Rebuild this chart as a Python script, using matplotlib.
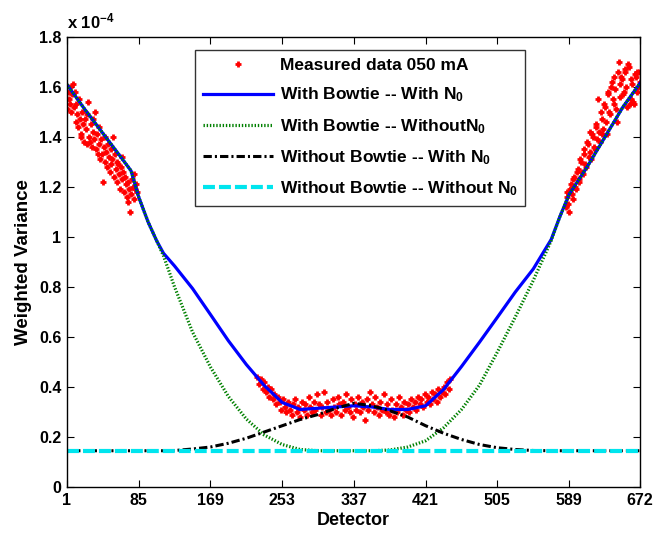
import matplotlib
matplotlib.use("Agg")
import matplotlib.pyplot as plt
import numpy as np

plt.rcParams['font.family'] = ['Liberation Sans', 'DejaVu Sans']
plt.rcParams['font.weight'] = 'bold'
plt.rcParams['mathtext.default'] = 'regular'
plt.rcParams['lines.scale_dashes'] = False

# detector grid for the model curves
det = [1, 22, 43, 64, 76, 85, 96, 106, 114, 127, 148, 169, 190, 211, 232, 253, 274, 295, 316,
       337, 358, 379, 400, 421, 442, 463, 484, 505, 526, 547, 568, 578, 589, 610, 631, 652, 672]
# variance values in units of 1e-4
bow_n0 = [1.61, 1.51, 1.415, 1.32, 1.265, 1.16, 1.06, 0.985, 0.935, 0.884, 0.794, 0.69, 0.585,
          0.49, 0.406, 0.338, 0.31, 0.315, 0.32, 0.325, 0.32, 0.31, 0.31, 0.325, 0.39, 0.482,
          0.579, 0.679, 0.78, 0.872, 0.99, 1.08, 1.17, 1.28, 1.40, 1.52, 1.615]
bow_no_n0 = [1.61, 1.51, 1.415, 1.32, 1.265, 1.16, 1.06, 0.985, 0.925, 0.80, 0.62, 0.48, 0.362,
             0.272, 0.208, 0.17, 0.15, 0.145, 0.145, 0.145, 0.145, 0.148, 0.16, 0.185, 0.237,
             0.31, 0.407, 0.54, 0.68, 0.826, 0.985, 1.08, 1.17, 1.28, 1.40, 1.52, 1.615]
nobow_n0 = [0.145, 0.145, 0.145, 0.145, 0.145, 0.145, 0.145, 0.145, 0.145, 0.146, 0.152, 0.16,
            0.175, 0.195, 0.22, 0.245, 0.27, 0.29, 0.315, 0.335, 0.325, 0.305, 0.28, 0.245,
            0.215, 0.19, 0.17, 0.157, 0.15, 0.146, 0.145, 0.145, 0.145, 0.145, 0.145, 0.145,
            0.145]
nobow_no_n0 = [0.145] * len(det)

# measured data, left edge
meas_l_x = list(range(1, 84))
meas_l_y = [1.51, 1.58, 1.55, 1.60, 1.53, 1.50, 1.57, 1.61, 1.52, 1.58, 1.46, 1.53, 1.49, 1.44,
            1.55, 1.47, 1.41, 1.40, 1.50, 1.45, 1.38, 1.47, 1.43, 1.37, 1.49, 1.54, 1.40, 1.38,
            1.45, 1.36, 1.42, 1.47, 1.39, 1.50, 1.35, 1.41, 1.33, 1.44, 1.37, 1.31, 1.39, 1.33,
            1.22, 1.36, 1.40, 1.30, 1.34, 1.28, 1.37, 1.32, 1.26, 1.35, 1.29, 1.31, 1.40, 1.24,
            1.33, 1.27, 1.30, 1.22, 1.29, 1.25, 1.19, 1.28, 1.32, 1.23, 1.26, 1.18, 1.24, 1.21,
            1.16, 1.14, 1.22, 1.19, 1.10, 1.17, 1.23, 1.20, 1.15, 1.25, 1.19, 1.21, 1.18]
# measured data, centre
meas_c_x = list(range(224, 452, 2))
meas_c_y = [0.44, 0.41, 0.43, 0.39, 0.42, 0.38, 0.40, 0.36, 0.39, 0.35, 0.37, 0.33, 0.36, 0.34,
            0.31, 0.35, 0.32, 0.30, 0.34, 0.31, 0.29, 0.33, 0.35, 0.30, 0.32, 0.28, 0.34, 0.31,
            0.33, 0.29, 0.36, 0.32, 0.30, 0.34, 0.31, 0.37, 0.33, 0.29, 0.32, 0.38, 0.30, 0.34,
            0.31, 0.29, 0.35, 0.32, 0.30, 0.36, 0.33, 0.29, 0.34, 0.31, 0.37, 0.32, 0.30, 0.35,
            0.28, 0.33, 0.31, 0.36, 0.30, 0.34, 0.32, 0.27, 0.35, 0.31, 0.38, 0.33, 0.30, 0.36,
            0.32, 0.29, 0.34, 0.31, 0.37, 0.30, 0.33, 0.29, 0.35, 0.31, 0.28, 0.33, 0.30, 0.36,
            0.32, 0.29, 0.34, 0.31, 0.33, 0.30, 0.35, 0.32, 0.34, 0.31, 0.36, 0.33, 0.35, 0.32,
            0.37, 0.34, 0.36, 0.33, 0.38, 0.35, 0.37, 0.34, 0.39, 0.36, 0.38, 0.40, 0.37, 0.42,
            0.39, 0.43]
# measured data, right edge
meas_r_x = list(range(585, 673))
meas_r_y = [1.12, 1.16, 1.18, 1.13, 1.10, 1.19, 1.21, 1.17, 1.15, 1.23, 1.24, 1.20, 1.19, 1.26,
            1.27, 1.23, 1.22, 1.31, 1.30, 1.26, 1.25, 1.35, 1.33, 1.29, 1.28, 1.38, 1.37, 1.32,
            1.42, 1.34, 1.31, 1.41, 1.40, 1.36, 1.35, 1.44, 1.45, 1.39, 1.55, 1.42, 1.38, 1.50,
            1.47, 1.41, 1.43, 1.53, 1.52, 1.46, 1.41, 1.58, 1.57, 1.50, 1.49, 1.60, 1.62, 1.55,
            1.53, 1.64, 1.59, 1.51, 1.46, 1.66, 1.70, 1.61, 1.56, 1.64, 1.63, 1.57, 1.58, 1.67,
            1.66, 1.60, 1.52, 1.69, 1.68, 1.53, 1.55, 1.63, 1.61, 1.54, 1.53, 1.65, 1.64, 1.66,
            1.58, 1.60, 1.66, 1.62]

xticks = [1, 85, 169, 253, 337, 421, 505, 589, 672]
yticks = [0, 0.2, 0.4, 0.6, 0.8, 1.0, 1.2, 1.4, 1.6, 1.8]
ytick_labels = ['0', '0.2', '0.4', '0.6', '0.8', '1', '1.2', '1.4', '1.6', '1.8']

meas_x = meas_l_x + meas_c_x + meas_r_x
meas_y = meas_l_y + meas_c_y + meas_r_y

fig = plt.figure(figsize=(6.54, 5.33), dpi=100)
ax = fig.add_axes([0.1024, 0.0863, 0.8762, 0.8443])

ax.plot(meas_x, meas_y, linestyle='none', marker='+', color='red', ms=4, mew=2,
        label='Measured data 050 mA')
ax.plot(det, bow_n0, color='#0000ff', lw=2.3, label='With Bowtie -- With N$_0$')
ax.plot(det, bow_no_n0, color='#008000', lw=2.3, dashes=(1.0, 1.3), dash_capstyle='butt',
        label='With Bowtie -- WithoutN$_0$')
ax.plot(det, nobow_n0, color='black', lw=2.2, dashes=(6, 2.2, 1.5, 2.2),
        label='Without Bowtie -- With N$_0$')
ax.plot(det, nobow_no_n0, color='#00e5ee', lw=3.0, dashes=(8.6, 2.9),
        label='Without Bowtie -- Without N$_0$')

ax.set_xlim(1, 672)
ax.set_ylim(0, 1.8)
ax.set_xticks(xticks)
ax.set_xticklabels([str(t) for t in xticks])
ax.set_yticks(yticks)
ax.set_yticklabels(ytick_labels)
ax.tick_params(direction='in', top=True, right=True, length=5, labelsize=11.5, pad=4)
for s in ax.spines.values():
    s.set_linewidth(1.0)

ax.set_xlabel('Detector', fontsize=13, fontweight='bold', labelpad=3)
ax.set_ylabel('Weighted Variance', fontsize=13.5, fontweight='bold', labelpad=5)
ax.text(0.0, 1.012, 'x 10$^{-4}$', transform=ax.transAxes, fontsize=12, fontweight='bold',
        ha='left', va='bottom')

leg = ax.legend(loc='upper center', bbox_to_anchor=(0.512, 0.99), fontsize=12.5,
                frameon=True, fancybox=False, edgecolor='black', handlelength=4.0,
                labelspacing=0.72, borderpad=0.45, handletextpad=0.4)
leg.get_frame().set_linewidth(1.0)

plt.savefig('out.png', dpi=100)
